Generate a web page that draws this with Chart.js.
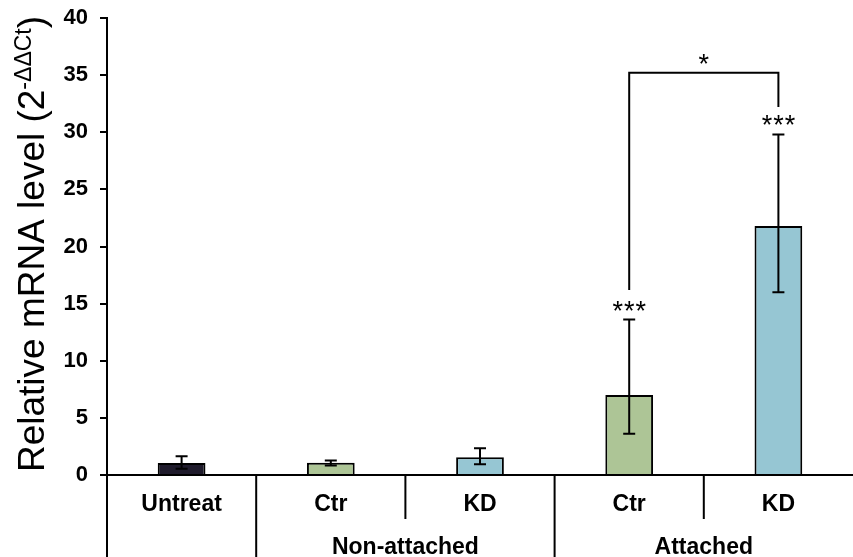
<!DOCTYPE html>
<html lang="en">
<head>
<meta charset="UTF-8">
<title>Relative mRNA level</title>
<script src="https://cdn.jsdelivr.net/npm/chart.js"></script>
<style> body { margin: 0; background: #fff; } canvas { display: block; } </style>
</head>
<body>
<canvas id="chart" width="853" height="557"></canvas>
<script>
// data
const categories = ['Untreat', 'Ctr', 'KD', 'Ctr', 'KD'];
const groupNames = ['', 'Non-attached', 'Attached'];
const groupOf = [0, 1, 1, 2, 2];
const means = [1.05, 1.08, 1.55, 7.0, 21.8];
const errUp = [0.6, 0.2, 0.8, 6.6, 8.0];
const errDown = [0.5, 0.25, 0.6, 3.4, 5.8];
const barColors = ['#1f1b2c', '#adc596', '#96c6d3', '#adc596', '#96c6d3'];
const yTicks = [0, 5, 10, 15, 20, 25, 30, 35, 40];
// significance marks (y in data units)
const starText = ['', '', '', '***', '***'];
const starLevel = [0, 0, 0, 14.7, 30.9];
const bracketBars = [3, 4];
const bracketLevel = 35.2;
const bracketLegEnds = [16.2, 32.2];
const bracketText = '*';
const bracketTextLevel = 36.3;

const FONT = '"Liberation Sans", Arial, sans-serif';

const extras = {
    id: 'extras',
    afterDatasetsDraw(chart) {
        const ctx = chart.ctx, x = chart.scales.x, y = chart.scales.y;
        const area = chart.chartArea;
        const bars = chart.getDatasetMeta(0).data;
        ctx.save();
        ctx.strokeStyle = '#000';
        ctx.lineWidth = 2;

        // error bars
        bars.forEach((bar, i) => {
            const top = y.getPixelForValue(means[i] + errUp[i]);
            const bot = y.getPixelForValue(means[i] - errDown[i]);
            ctx.beginPath();
            ctx.moveTo(bar.x, top); ctx.lineTo(bar.x, bot);
            ctx.moveTo(bar.x - 6, top); ctx.lineTo(bar.x + 6, top);
            ctx.moveTo(bar.x - 6, bot); ctx.lineTo(bar.x + 6, bot);
            ctx.stroke();
        });

        // category separators below the axis
        const H = chart.height;
        ctx.beginPath();
        ctx.moveTo(area.left, area.bottom); ctx.lineTo(area.left, H);
        for (let i = 0; i < categories.length - 1; i++) {
            const xb = (x.getPixelForValue(i) + x.getPixelForValue(i + 1)) / 2;
            const full = groupOf[i] !== groupOf[i + 1];
            ctx.moveTo(xb, area.bottom); ctx.lineTo(xb, full ? H : area.bottom + 44);
        }
        ctx.stroke();

        // group labels
        ctx.fillStyle = '#000';
        ctx.font = 'bold 23px ' + FONT;
        ctx.textAlign = 'center';
        ctx.textBaseline = 'middle';
        groupNames.forEach((name, g) => {
            if (!name) return;
            const idx = groupOf.map((v, i) => v === g ? i : -1).filter(i => i >= 0);
            const cx = (x.getPixelForValue(idx[0]) + x.getPixelForValue(idx[idx.length - 1])) / 2;
            ctx.fillText(name, cx, H - 9);
        });

        // stars over bars
        ctx.font = '27px ' + FONT;
        ctx.letterSpacing = '1px';
        bars.forEach((bar, i) => {
            if (!starText[i]) return;
            ctx.fillText(starText[i], bar.x + 0.5, y.getPixelForValue(starLevel[i]) + 5);
        });
        ctx.letterSpacing = '0px';

        // bracket
        const xa = bars[bracketBars[0]].x, xc = bars[bracketBars[1]].x;
        const yl = y.getPixelForValue(bracketLevel);
        ctx.beginPath();
        ctx.moveTo(xa, y.getPixelForValue(bracketLegEnds[0]));
        ctx.lineTo(xa, yl); ctx.lineTo(xc, yl);
        ctx.lineTo(xc, y.getPixelForValue(bracketLegEnds[1]));
        ctx.stroke();
        ctx.fillText(bracketText, (xa + xc) / 2, y.getPixelForValue(bracketTextLevel) + 5);

        // y axis title with superscript
        const main = 'Relative mRNA level (2', sup = '-\u0394\u0394Ct', close = ')';
        const big = '37px ' + FONT, small = '23px ' + FONT;
        ctx.font = big; const w1 = ctx.measureText(main).width, w3 = ctx.measureText(close).width;
        ctx.font = small; const w2 = ctx.measureText(sup).width;
        const total = w1 + w2 + w3;
        ctx.translate(44, 244);
        ctx.rotate(-Math.PI / 2);
        ctx.textAlign = 'left';
        ctx.textBaseline = 'alphabetic';
        let px = -total / 2;
        ctx.font = big; ctx.fillText(main, px, 0); px += w1;
        ctx.font = small; ctx.fillText(sup, px, -13); px += w2;
        ctx.font = big; ctx.fillText(close, px, 0);
        ctx.restore();
    }
};

new Chart(document.getElementById('chart'), {
    type: 'bar',
    data: {
        labels: categories,
        datasets: [{
            data: means,
            backgroundColor: barColors,
            borderColor: '#000',
            borderWidth: 2,
            barPercentage: 0.32,
            categoryPercentage: 1
        }]
    },
    options: {
        responsive: false,
        animation: false,
        layout: { padding: { top: 18, left: 0, right: 0, bottom: 0 } },
        plugins: { legend: { display: false }, tooltip: { enabled: false } },
        scales: {
            x: {
                grid: { display: false },
                border: { color: '#000', width: 2 },
                ticks: { color: '#000', font: { family: FONT, size: 23, weight: 'bold' }, padding: 8, maxRotation: 0 },
                afterFit: s => { s.height = 82; }
            },
            y: {
                min: 0, max: 40,
                afterBuildTicks: s => { s.ticks = yTicks.map(v => ({ value: v })); },
                grid: { drawOnChartArea: false, drawTicks: true, tickLength: 7, color: '#000', lineWidth: 2 },
                border: { color: '#000', width: 2 },
                ticks: { color: '#000', font: { family: FONT, size: 22, weight: 'bold' }, padding: 12 },
                afterFit: s => { s.width = 107; s.paddingTop = 0; s.paddingBottom = 0; }
            }
        }
    },
    plugins: [extras]
});
</script>
</body>
</html>
